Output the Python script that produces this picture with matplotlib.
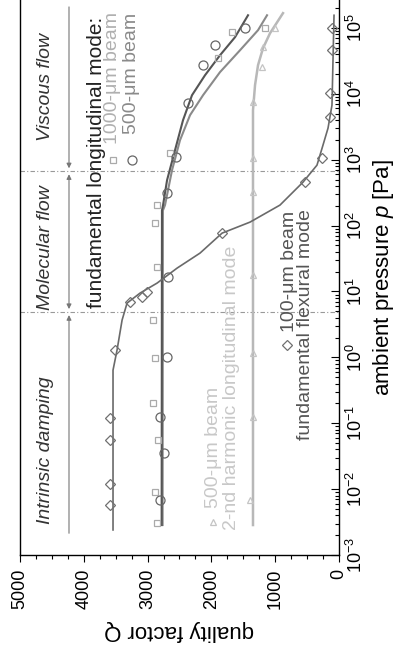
import numpy as np
import matplotlib
matplotlib.use('Agg')
import matplotlib.pyplot as plt
from matplotlib.lines import Line2D
from matplotlib.ticker import LogLocator, MultipleLocator, FuncFormatter, NullFormatter

plt.rcParams['font.family'] = ['Liberation Sans', 'DejaVu Sans']
plt.rcParams['mathtext.fontset'] = 'custom'
plt.rcParams['mathtext.rm'] = 'Liberation Sans'
plt.rcParams['mathtext.it'] = 'Liberation Sans:italic'
plt.rcParams['mathtext.bf'] = 'Liberation Sans:bold'

# ---------------- data (pressure in Pa, quality factor Q) ----------------
# 100-um beam, fundamental flexural mode (diamonds)
flex_p = [0.0058, 0.012, 0.056, 0.12, 1.3, 6.9, 8.2, 9.8, 77, 460, 1060, 4400, 10200, 46000, 99000]
flex_q = [3590, 3590, 3590, 3590, 3510, 3280, 3090, 3010, 1830, 530, 270, 140, 140, 110, 110]
flex_fit_p = [0.0024, 0.64, 1.29, 3.68, 6.67, 9.46, 13.4, 22.6, 38.3, 76.9, 113, 205, 457, 828,
              1667, 3020, 6745, 32400, 156000]
flex_fit_q = [3542, 3542, 3479, 3400, 3322, 3118, 2852, 2539, 2178, 1833, 1395, 925, 564, 345,
              251, 172, 110, 94, 78]

# 1000-um beam, fundamental longitudinal mode (squares)
l1000_p = [0.0031, 0.0090, 0.056, 0.203, 0.975, 3.68, 23.4, 109, 205, 1259, 34800, 86300, 99300]
l1000_q = [2852, 2883, 2836, 2915, 2883, 2915, 2852, 2883, 2852, 2648, 1896, 1677, 1160]
l1000_fit_p = [0.00285, 170, 205, 695, 1980, 4750, 9550, 21400, 46000, 92700, 156000]
l1000_fit_q = [2765, 2760, 2727, 2617, 2492, 2335, 2131, 1865, 1551, 1269, 1128]

# 500-um beam, fundamental longitudinal mode (circles)
l500_p = [0.0068, 0.035, 0.124, 1.01, 16.6, 311, 1096, 7230, 27300, 54800, 99300]
l500_q = [2805, 2742, 2805, 2695, 2680, 2695, 2554, 2366, 2131, 1943, 1473]
l500_fit_p = [0.00285, 170, 205, 490, 1400, 3980, 9550, 19200, 38600, 72500, 156000]
l500_fit_q = [2780, 2775, 2758, 2695, 2570, 2445, 2304, 2100, 1865, 1630, 1426]

# 500-um beam, 2nd harmonic longitudinal mode (triangles)
h2_p = [0.0068, 0.124, 1.16, 17.7, 322, 1057, 7480, 25400, 51200, 99300]
h2_q = [1395, 1348, 1348, 1348, 1348, 1348, 1348, 1207, 1191, 1003]
h2_fit_p = [0.00285, 5660, 13600, 27300, 49400, 83400, 168000]
h2_fit_q = [1348, 1348, 1316, 1269, 1191, 1081, 878]

# regime boundaries (Pa)
bound_p = [4.86, 676]

# ---------------- figure ----------------
W, H = 397, 651
fig = plt.figure(figsize=(W / 100, H / 100), dpi=100)
ax = fig.add_axes([20 / W, 1 - 555 / H, 319 / W, 555 / H])

ax.set_yscale('log')
ax.set_xlim(5000, 0)
ax.set_ylim(1e-3, 10 ** 5.425)

# fits
ax.plot(h2_fit_q, h2_fit_p, color='#b8b8b8', lw=1.8, zorder=2)
ax.plot(l1000_fit_q, l1000_fit_p, color='#8a8a8a', lw=1.5, zorder=3)
ax.plot(l500_fit_q, l500_fit_p, color='#555555', lw=1.5, zorder=3)
ax.plot(flex_fit_q, flex_fit_p, color='#6a6a6a', lw=1.2, zorder=3)

# measured points
ax.plot(h2_q, h2_p, ls='none', marker='^', ms=5, mfc='none', mec='#c4c4c4', mew=0.9, zorder=4)
ax.plot(l1000_q, l1000_p, ls='none', marker='s', ms=5, mfc='none', mec='#aaaaaa', mew=0.9, zorder=4)
ax.plot(l500_q, l500_p, ls='none', marker='o', ms=6.5, mfc='none', mec='#666666', mew=0.9, zorder=4)
ax.plot(flex_q, flex_p, ls='none', marker='D', ms=5, mfc='none', mec='#707070', mew=0.9, zorder=4)

# regime boundaries
for bp in bound_p:
    ax.axhline(bp, color='#999999', lw=0.8, ls=(0, (4, 2, 1, 2)), zorder=1)

# regime arrows
xa = 4232
akw = dict(color='#777777', lw=0.8, shrinkA=0, shrinkB=0, mutation_scale=7)
ax.annotate('', xy=(xa, 10 ** 2.87), xytext=(xa, 10 ** 5.32),
            arrowprops=dict(arrowstyle='-|>', **akw))
ax.annotate('', xy=(xa, 10 ** 0.733), xytext=(xa, 10 ** 2.78),
            arrowprops=dict(arrowstyle='<|-|>', **akw))
ax.annotate('', xy=(xa, 10 ** 0.642), xytext=(xa, 10 ** -2.67),
            arrowprops=dict(arrowstyle='-|>', **akw))

# ticks
ax.xaxis.set_major_locator(MultipleLocator(1000))
ax.xaxis.set_minor_locator(MultipleLocator(250))
ax.yaxis.set_major_locator(LogLocator(base=10, numticks=20))
ax.yaxis.set_minor_locator(LogLocator(base=10, subs=np.arange(2, 10), numticks=20))
ax.yaxis.set_major_formatter(FuncFormatter(lambda v, pos: r'$10^{%d}$' % int(round(np.log10(v)))))
ax.yaxis.set_minor_formatter(NullFormatter())
ax.yaxis.tick_right()
ax.tick_params(axis='y', which='both', direction='in', right=True, left=False,
               labelright=True, labelleft=False, width=0.8)
ax.tick_params(axis='y', which='major', length=6, pad=5, labelsize=13, labelrotation=90)
ax.tick_params(axis='y', which='minor', length=3)
ax.tick_params(axis='x', which='both', direction='out', width=0.8)
ax.tick_params(axis='x', which='major', length=5, pad=5, labelsize=13, labelrotation=90)
ax.tick_params(axis='x', which='minor', length=3)
for t in ax.yaxis.get_majorticklabels():
    t.set_verticalalignment('center')
ax.spines['top'].set_visible(False)
for s in ('left', 'right', 'bottom'):
    ax.spines[s].set_linewidth(1.0)


def px(x, y):
    return x / W, 1 - y / H


def vtext(x, y, s, ha='left', **kw):
    fx, fy = px(x, y)
    fig.text(fx, fy, s, rotation=90, rotation_mode='anchor', ha=ha, va='center', **kw)


# regime labels
vtext(46, 87, 'Viscous flow', ha='center', fontsize=14, style='italic', color='#333333')
vtext(46, 248, 'Molecular flow', ha='center', fontsize=14, style='italic', color='#333333')
vtext(46, 450, 'Intrinsic damping', ha='center', fontsize=14, style='italic', color='#333333')

# legend-like annotations
vtext(96, 308, 'fundamental longitudinal mode:', fontsize=15, color='#222222')
vtext(113, 144, '1000-\u03bcm beam', fontsize=14, color='#b0b0b0')
vtext(132, 134, '500-\u03bcm beam', fontsize=14, color='#8a8a8a')
vtext(289, 332, '100-\u03bcm beam', fontsize=14, color='#555555')
vtext(305, 440, 'fundamental flexural mode', fontsize=14, color='#555555')
vtext(213, 508, '500-\u03bcm beam', fontsize=14, color='#c8c8c8')
vtext(231, 530, '2-nd harmonic longitudinal mode', fontsize=14, color='#c8c8c8')

for (x, y, m, c, ms) in [(113, 160, 's', '#aaaaaa', 5), (132, 160, 'o', '#666666', 6.5),
                          (287, 345, 'D', '#707070', 5), (213, 522, '^', '#c4c4c4', 5)]:
    fx, fy = px(x, y)
    fig.add_artist(Line2D([fx], [fy], transform=fig.transFigure, ls='none', marker=m, ms=ms,
                          mfc='none', mec=c, mew=0.9))

# axis titles
fx, fy = px(179, 631)
fig.text(fx, fy, 'quality factor Q', rotation=180, ha='center', va='center', fontsize=16)
fx, fy = px(383, 278)
fig.text(fx, fy, r'ambient pressure $p$ [Pa]', rotation=90, ha='center', va='center', fontsize=16)

fig.savefig('out.png', dpi=100)
